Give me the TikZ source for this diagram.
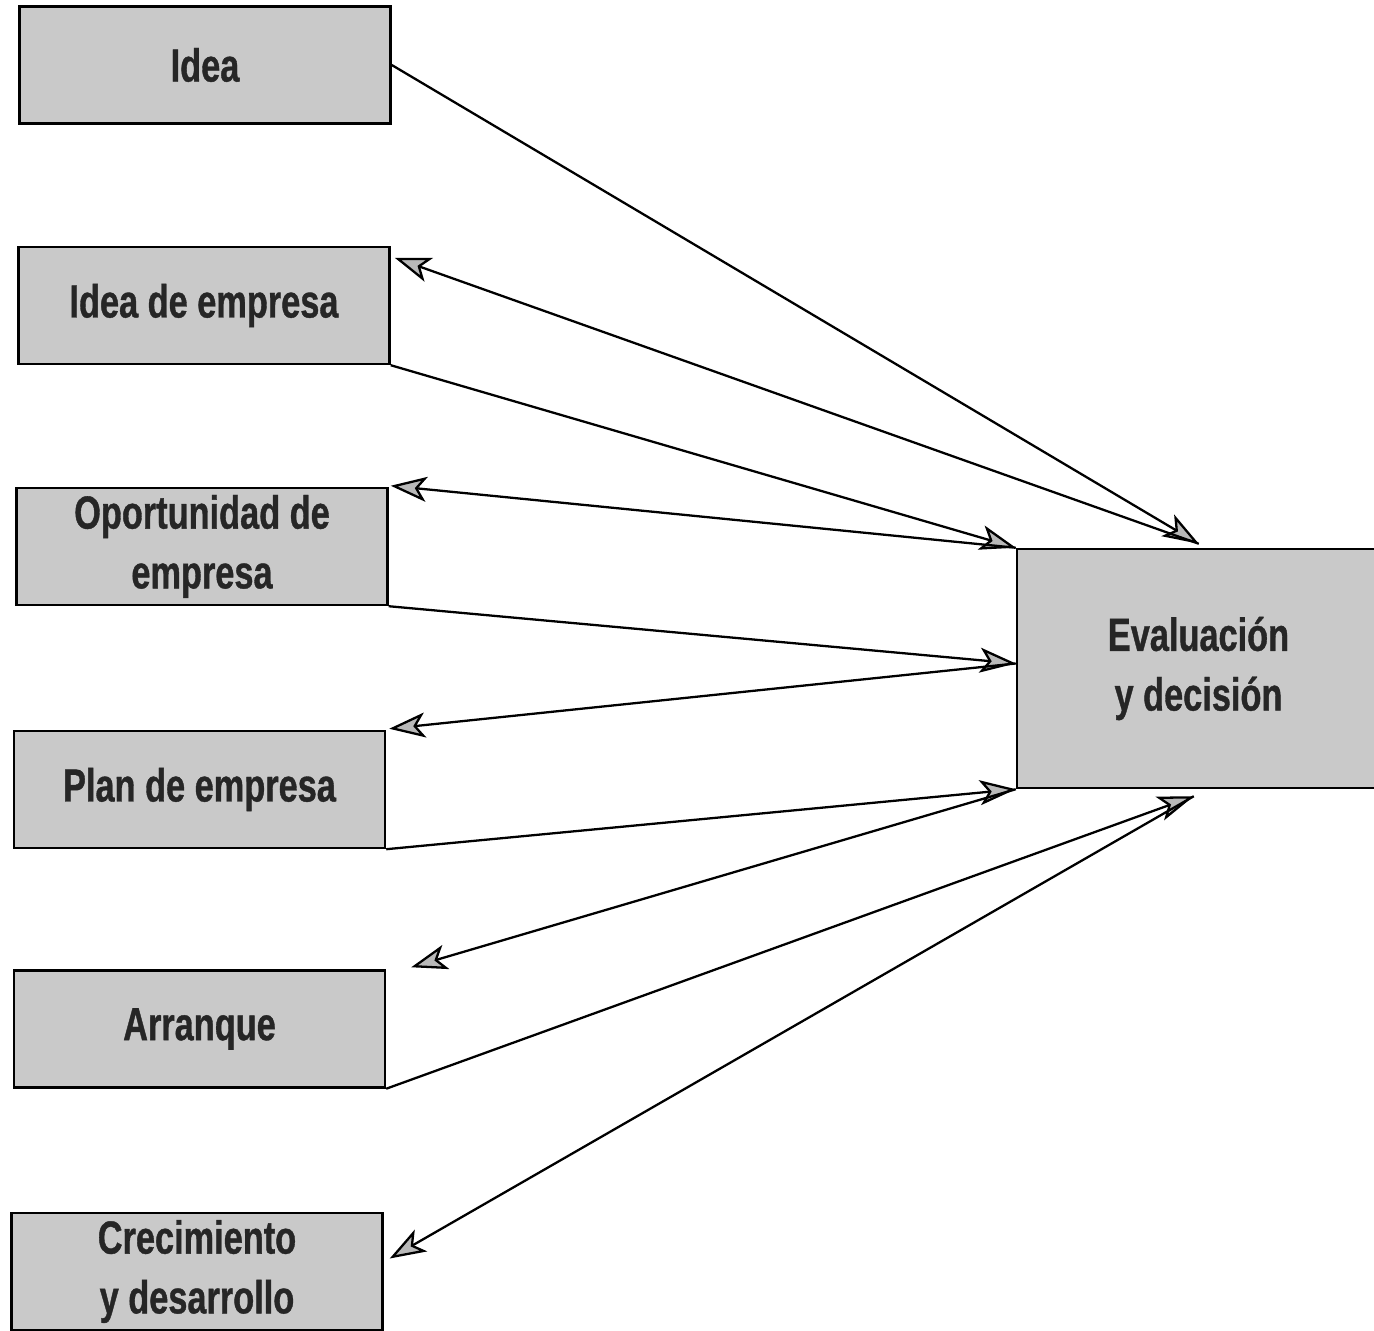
\documentclass[tikz,border=0pt]{standalone}
\usepackage{fontspec}
\usetikzlibrary{arrows.meta}
\newfontfamily\cajafont[FakeStretch=0.74, BoldFeatures={FakeBold=0.8}]{Liberation Sans}
\tikzset{
  etapa/.style={draw=black, fill=gray!42, line width=0.7pt, inner sep=0pt,
    minimum width=3.71cm, minimum height=1.17cm, align=center,
    font=\cajafont\bfseries\fontsize{13.2}{17}\selectfont, text=black!85},
  flecha/.style={line width=0.65pt,
    -{Stealth[length=3.6mm, width=2.5mm, inset=0.9mm, fill=gray!55]}}
}
% ida y vuelta entre una etapa y la evaluacion
\newcommand{\ida}[2]{\draw[flecha] (#1) -- (#2)}

\begin{document}
\begin{tikzpicture}
\useasboundingbox (0,0) rectangle (13.74,13.31);
\node[etapa] (idea) at (2.05,12.66) {Idea};
\node[etapa] (ideaemp) at (2.04,10.255) {Idea de empresa};
\node[etapa] (oport) at (2.02,7.845) {Oportunidad de\\empresa};
\node[etapa] (plan) at (1.995,5.415) {Plan de empresa};
\node[etapa] (arranque) at (1.995,3.02) {Arranque};
\node[etapa] (crec) at (1.97,0.595) {Crecimiento\\y desarrollo};
\node[etapa, minimum width=3.63cm, minimum height=2.39cm] (eval) at (11.985,6.625)
  {Evaluación\\y decisión};
%
\coordinate (arriba) at ([shift={(1.83,0.04)}]eval.north west);
\coordinate (abajo) at ([shift={(1.78,-0.07)}]eval.south west);
\coordinate (medio) at ([yshift=0.05cm]eval.west);
%
\ida{idea.east}{arriba};
\ida{arriba}{[shift={(0.04,-0.12)}]ideaemp.north east};
\ida{ideaemp.south east}{eval.north west};
\ida{eval.north west}{[shift={(0.02,0.01)}]oport.north east};
\ida{oport.south east}{medio};
\ida{medio}{[shift={(0.03,0.01)}]plan.north east};
\ida{plan.south east}{eval.south west};
\ida{eval.south west}{[shift={(0.25,0.02)}]arranque.north east};
\ida{arranque.south east}{abajo};
\ida{abajo}{[shift={(0.06,0.13)}]crec.east};
\end{tikzpicture}
\end{document}
